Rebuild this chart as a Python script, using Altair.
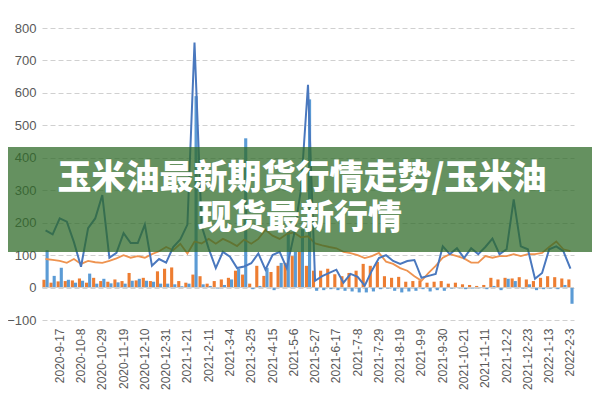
import altair as alt
import pandas as pd

# weekly categories
dates = [f"{d.year}-{d.month}-{d.day}" for d in pd.date_range("2020-09-03", periods=75, freq="7D")]

tick_labels = ["2020-9-17", "2020-10-8", "2020-10-29", "2020-11-19", "2020-12-10", "2020-12-31",
               "2021-1-21", "2021-2-11", "2021-3-4", "2021-3-25", "2021-4-15", "2021-5-6",
               "2021-5-27", "2021-6-17", "2021-7-8", "2021-7-29", "2021-8-19", "2021-9-9",
               "2021-9-30", "2021-10-21", "2021-11-11", "2021-12-2", "2021-12-23", "2022-1-13",
               "2022-2-3"]

y_ticks = [-100, 0, 100, 200, 300, 400, 500, 600, 700, 800]

blue_line = [176, 164, 213, 203, 140, 64, 183, 213, 285, 92,
             107, 168, 137, 137, 194, 67, 88, 77, 125, 148,
             194, 755, 190, 120, 60, 110, 95, 60, 65, 75,
             105, 55, 100, 110, 60, 160, 300, 625, 21, 35,
             45, 55, 15, 42, 33, 6, 52, 91, 100, 82,
             73, 82, 85, 30, 36, 42, 127, 103, 121, 91,
             121, 103, 125, 151, 103, 118, 272, 127, 118, 27,
             45, 118, 127, 112, 58]

orange_line = [88, 85, 82, 76, 88, 73, 82, 78, 76, 82,
               90, 100, 92, 97, 92, 103, 112, 125, 115, 135,
               105, 142, 136, 150, 135, 150, 140, 128, 148, 135,
               150, 178, 160, 150, 165, 170, 155, 158, 136, 130,
               125, 121, 110, 106, 100, 91, 97, 107, 80, 73,
               60, 52, 35, 21, 45, 67, 92, 103, 97, 90,
               77, 77, 97, 92, 97, 97, 103, 97, 103, 103,
               107, 125, 142, 118, 112]

blue_bars = [115, 36, 61, 24, 15, 21, 43, 12, 27, 13,
             16, 12, 21, 27, 21, 18, 12, 12, 10, 4,
             12, 590, 10, 5, -3, 8, 25, 58, 460, -5,
             5, 61, -8, 76, 200, 110, 180, 580, -10, -8,
             -5, -8, -10, -12, -15, -15, -12, -5, -3, -10,
             -15, -12, -10, -5, -12, -8, -10, -3, -2, -5,
             -3, -2, -5, 5, -8, 27, 20, -3, 10, -8,
             -5, -3, -5, 8, -50]

orange_bars = [24, 15, 19, 20, 22, 28, 15, 30, 20, 18,
               25, 20, 45, 22, 30, 20, 50, 58, 62, 20,
               15, 40, 35, 12, 20, 25, 30, 52, 40, 12,
               67, 36, 48, 67, 76, 97, 110, 67, 52, 52,
               58, 41, 35, 45, 52, 73, 67, 79, 35, 30,
               33, 18, 20, 22, 15, 18, 20, 12, 15, 10,
               8, 5, 8, 30, 25, 30, 28, 32, 25, 20,
               30, 35, 32, 28, 25]

title_line1 = "玉米油最新期货行情走势/玉米油"
title_line2 = "现货最新行情"

bars_df = pd.DataFrame({
    "date": dates * 2,
    "series": ["orange"] * len(dates) + ["blue"] * len(dates),
    "value": orange_bars + blue_bars,
})
lines_df = pd.DataFrame({"date": dates, "blue": blue_line, "orange": orange_line})
one = pd.DataFrame({"k": [0]})

xscale = alt.Scale(domain=dates, paddingInner=0.12, paddingOuter=0.06)
yscale = alt.Scale(domain=[-100, 800], nice=False)
x_axis = alt.Axis(values=tick_labels, labelAngle=-90, domain=False, ticks=False,
                  labelColor="#595959", labelFontSize=12, labelPadding=8,
                  labelFont="Liberation Sans", title=None, grid=False, labelOverlap=False)
y_axis = alt.Axis(values=y_ticks, grid=True, gridDash=[5, 3],
                  gridColor="#d0d0d0", domain=False, ticks=False,
                  labelColor="#595959", labelFontSize=13, labelPadding=6,
                  labelFont="Liberation Sans", title=None, labelOverlap=False)

bars = alt.Chart(bars_df).mark_bar().encode(
    x=alt.X("date:N", sort=dates, scale=xscale, axis=x_axis),
    xOffset=alt.XOffset("series:N", sort=["orange", "blue"]),
    y=alt.Y("value:Q", scale=yscale, axis=y_axis),
    color=alt.Color("series:N", scale=alt.Scale(domain=["orange", "blue"],
                                                range=["#ED7D31", "#5B9BD5"]), legend=None),
)

zero = alt.Chart(one).mark_rule(color="#cfcfcf", strokeWidth=1).encode(
    y=alt.Y(datum=0, scale=yscale, axis=y_axis))

line_blue = alt.Chart(lines_df).mark_line(color="#4A78BE", strokeWidth=2).encode(
    x=alt.X("date:N", sort=dates, scale=xscale, axis=x_axis),
    y=alt.Y("blue:Q", scale=yscale, axis=y_axis))
line_orange = alt.Chart(lines_df).mark_line(color="#EE9350", strokeWidth=1.8).encode(
    x=alt.X("date:N", sort=dates, scale=xscale, axis=x_axis),
    y=alt.Y("orange:Q", scale=yscale, axis=y_axis))

banner = alt.Chart(one).mark_rect(color="#2f6a28", opacity=0.74).encode(
    x=alt.value(-42), x2=alt.value(558), y=alt.value(119), y2=alt.value(224))

def title_text(txt, x, y):
    return alt.Chart(one).mark_text(
        text=txt, font="Noto Sans CJK SC", fontSize=34, fontWeight=900,
        color="white", align="center", baseline="middle"
    ).encode(x=alt.value(x), y=alt.value(y))

t1 = title_text(title_line1, 260, 151)
t2 = title_text(title_line2, 258, 191)

chart = alt.layer(bars, zero, line_orange, line_blue, banner, t1, t2).properties(
    width=532, height=292,
    autosize=alt.AutoSizeParams(type="none"),
    padding={"left": 34, "top": 20, "right": 18, "bottom": 72},
).configure_view(stroke=None)

chart.save("out.html", embed_options={"renderer": "svg", "actions": False})
